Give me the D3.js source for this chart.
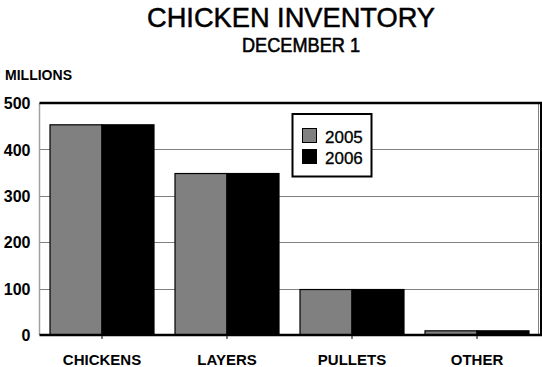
<!DOCTYPE html>
<html><head><meta charset="utf-8">
<script src="https://cdn.jsdelivr.net/npm/d3@7"></script>
<style>body{margin:0;background:#fff}svg{display:block}text{font-family:"Liberation Sans",Arial,sans-serif}</style>
</head><body>
<script>
const categories = ["CHICKENS","LAYERS","PULLETS","OTHER"];
const seriesNames = ["2005","2006"];
const values2005 = [453, 348, 98, 9];
const values2006 = [453, 348, 98, 9];
const yTicks = [0,100,200,300,400,500];
const colors = ["#808080","#000000"];

const W=542,H=367;
const svg=d3.select("body").append("svg").attr("width",W).attr("height",H);
const L=39.5,R=539.5,T=103,B=335;
const x0=d3.scaleBand().domain(categories).range([L,R]).paddingInner(0.168).paddingOuter(0.084);
const x1=d3.scaleBand().domain(seriesNames).range([0,x0.bandwidth()]);
const y=d3.scaleLinear().domain([0,500]).range([B,T]);
const data=[values2005,values2006];

// gridlines
svg.append("g").selectAll("line").data(yTicks.filter(t=>t>0&&t<500)).join("line")
 .attr("x1",L).attr("x2",R).attr("y1",d=>Math.round(y(d))+0.5).attr("y2",d=>Math.round(y(d))+0.5)
 .attr("stroke","#808080").attr("stroke-width",1);
// frame
svg.append("line").attr("x1",L).attr("x2",L).attr("y1",T).attr("y2",B).attr("stroke","#a0a0a0").attr("stroke-width",1.5);
svg.append("line").attr("x1",R-1).attr("x2",R-1).attr("y1",T).attr("y2",B).attr("stroke","#808080").attr("stroke-width",1);
svg.append("line").attr("x1",R+1.5).attr("x2",R+1.5).attr("y1",T-1).attr("y2",B).attr("stroke","#000").attr("stroke-width",2);
svg.append("line").attr("x1",L).attr("x2",R+2.5).attr("y1",T).attr("y2",T).attr("stroke","#000").attr("stroke-width",2.5);

// bars
const g=svg.append("g");
categories.forEach((c,i)=>{
  seriesNames.forEach((s,j)=>{
    g.append("rect").attr("x",x0(c)+x1(s)).attr("width",x1.bandwidth())
     .attr("y",y(data[j][i])).attr("height",y(0)-y(data[j][i]))
     .attr("fill",colors[j]).attr("stroke","#000").attr("stroke-width",1.2);
  });
});

// bottom axis
const xa=svg.append("g").attr("transform",`translate(0,${B})`)
 .call(d3.axisBottom(x0).tickSize(4).tickSizeOuter(0).tickPadding(10));
xa.select(".domain").attr("stroke","#000").attr("stroke-width",2.5).attr("d",`M${L},0H${R+2.5}`);
xa.selectAll(".tick line").attr("stroke","#000").attr("stroke-width",1);
xa.selectAll(".tick text").attr("font-size",15).attr("font-weight","bold").attr("fill","#000")
 .attr("dy",null).attr("y",30);

// left axis labels
const ya=svg.append("g").attr("transform",`translate(${L},0)`)
 .call(d3.axisLeft(y).tickValues(yTicks).tickSize(0).tickPadding(9));
ya.select(".domain").remove();
ya.selectAll(".tick text").attr("font-size",16).attr("font-weight","bold").attr("fill","#000")
 .attr("x",-9).attr("dy","0.36em");

// titles
svg.append("text").attr("x",291).attr("y",26.5).attr("text-anchor","middle").attr("font-size",28)
 .attr("stroke","#000").attr("stroke-width",0.5)
 .attr("textLength",288).attr("lengthAdjust","spacingAndGlyphs").text("CHICKEN INVENTORY");
svg.append("text").attr("x",301).attr("y",51.5).attr("text-anchor","middle").attr("font-size",21)
 .attr("stroke","#000").attr("stroke-width",0.6)
 .attr("textLength",118).attr("lengthAdjust","spacingAndGlyphs").text("DECEMBER 1");
svg.append("text").attr("x",5).attr("y",80).attr("font-size",14).attr("font-weight","bold")
 .attr("textLength",67).attr("lengthAdjust","spacingAndGlyphs").text("MILLIONS");

// legend
const lg=svg.append("g");
lg.append("rect").attr("x",292.5).attr("y",114).attr("width",79).attr("height",62.5)
 .attr("fill","#fff").attr("stroke","#000").attr("stroke-width",2);
seriesNames.forEach((s,j)=>{
  lg.append("rect").attr("x",302.5).attr("y",128.5+j*21).attr("width",14).attr("height",14)
   .attr("fill",colors[j]).attr("stroke","#000").attr("stroke-width",1);
  lg.append("text").attr("x",325).attr("y",142.5+j*21).attr("font-size",17).attr("fill","#000")
   .attr("stroke","#000").attr("stroke-width",0.3).text(s);
});
</script>
</body></html>
